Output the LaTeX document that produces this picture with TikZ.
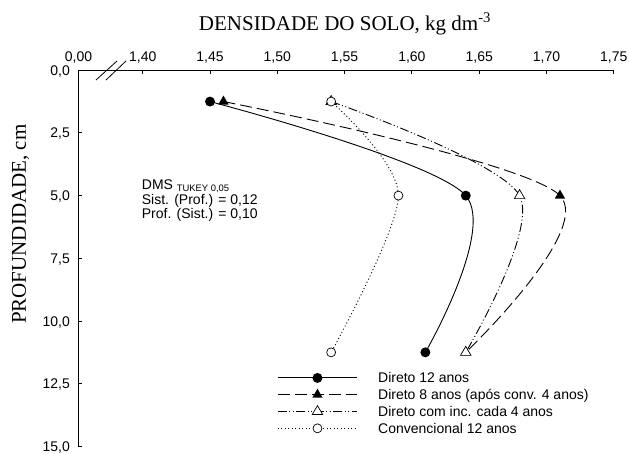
\documentclass[tikz,border=0pt]{standalone}
\usepackage{fontspec}
\setmainfont{Liberation Sans}
\newfontfamily\serifttl{Liberation Serif}
\usetikzlibrary{calc}
\usetikzlibrary{shapes.geometric}

\begin{document}
\begin{tikzpicture}[
			x=1346pt, y=-25.08pt,
			axis/.style={black,line width=0.9pt},
			lbl/.style={font=\fontsize{14}{16}\selectfont,inner sep=0pt},
			ttl/.style={font=\serifttl\fontsize{21}{24}\selectfont,inner sep=0pt},
			fcirc/.style={circle,fill=black,inner sep=0pt,minimum size=10pt},
			ocirc/.style={circle,draw=black,fill=white,line width=0.7pt,inner sep=0pt,minimum size=9pt},
			ftri/.style={regular polygon,regular polygon sides=3,fill=black,inner sep=0pt,minimum size=12pt},
			otri/.style={regular polygon,regular polygon sides=3,draw=black,fill=white,line width=0.7pt,inner sep=0pt,minimum size=12pt},
			c12/.style={black,line width=0.9pt},
			c8/.style={black,line width=0.9pt,dash pattern=on 12pt off 5pt},
			cinc/.style={black,line width=0.9pt,dash pattern=on 9pt off 2.5pt on 1pt off 2.5pt on 1pt off 2.5pt},
			cconv/.style={black,line width=0.9pt,dash pattern=on 1pt off 2.5pt}
		]
		\useasboundingbox (-142.7pt,70.2pt) rectangle (486.3pt,-382.8pt);

		% Titles
		\node[ttl,anchor=base] (title) at (202.3pt,40.2pt) {DENSIDADE DO SOLO, kg dm\textsuperscript{-3}};
		\node[ttl,anchor=base,rotate=90] (ytitle) at (-116.7pt,-154pt) {PROFUNDIDADE, cm};

		% Axes (x = density - 1,40 ; y = depth)
		\coordinate (O) at (-0.0477,0);
		\coordinate (B) at (-0.0477,15);
		\draw[axis] (0.35,0) -- (O) -- (B);
		\draw[axis,line width=0.8pt] (-46.7pt,-9.8pt) -- (-25.7pt,9.2pt);
		\draw[axis,line width=0.8pt] (-36.7pt,-9.8pt) -- (-16.7pt,9.2pt);
		\node[lbl,anchor=base] (x0) at ($(O)+(0,8.5pt)$) {0,00};
		\foreach \x/\t [count=\i] in {0/{1,40},0.05/{1,45},0.1/{1,50},0.15/{1,55},0.2/{1,60},0.25/{1,65},0.3/{1,70},0.35/{1,75}} {
			\draw[axis] (\x,0) -- ++(0,-4pt);
			\node[lbl,anchor=base] (x\i) at ($(\x,0)+(0,8.5pt)$) {\t};
		}
		\foreach \y/\t [count=\i] in {0/{0,0},2.5/{2,5},5/{5,0},7.5/{7,5},10/{10,0},12.5/{12,5},15/{15,0}} {
			\draw[axis] (-0.0477,\y) -- ++(4pt,0);
			\node[lbl,anchor=base east] (y\i) at ($(-0.0477,\y)+(-8.5pt,-5pt)$) {\t};
		}

		% DMS
		\node[lbl,anchor=base west] (dms) at (-1pt,-118.8pt) {DMS\ \raisebox{-2.5pt}{\fontsize{9.4}{10}\selectfont TUKEY 0,05}};
		\node[lbl,anchor=base west] (dms1) at (-1pt,-133.8pt) {Sist. (Prof.) = 0,12};
		\node[lbl,anchor=base west] (dms2) at (-1pt,-148.3pt) {Prof. (Sist.) = 0,10};

		% Data points
		\coordinate (a1) at (0.05,1.25);
		\coordinate (a2) at (0.24,5);
		\coordinate (a3) at (0.21,11.25);
		\coordinate (b1) at (0.06,1.25);
		\coordinate (b2) at (0.31,5);
		\coordinate (b3) at (0.24,11.25);
		\coordinate (c1) at (0.14,1.25);
		\coordinate (c2) at (0.28,5);
		\coordinate (c3) at (0.24,11.25);
		\coordinate (d1) at (0.14,1.25);
		\coordinate (d2) at (0.19,5);
		\coordinate (d3) at (0.14,11.25);

		\draw[c12] plot[smooth] coordinates {(a1) (a2) (a3)};
		\draw[c8] plot[smooth] coordinates {(b1) (b2) (b3)};
		\draw[cinc] plot[smooth] coordinates {(c1) (c2) (c3)};
		\draw[cconv] plot[smooth] coordinates {(d1) (d2) (d3)};

		\foreach \n in {1,2,3} \node[fcirc] (ma\n) at (a\n) {};
		\foreach \n in {1,2,3} \node[ftri] (mb\n) at (b\n) {};
		\foreach \n in {1,2,3} \node[otri] (mc\n) at (c\n) {};
		\foreach \n in {1,2,3} \node[ocirc] (md\n) at (d\n) {};

		% Legend
		\foreach \st/\mk/\txt [count=\i] in {c12/fcirc/{Direto 12 anos},c8/ftri/{Direto 8 anos (após conv. 4 anos)},cinc/otri/{Direto com inc. cada 4 anos},cconv/ocirc/{Convencional 12 anos}} {
			\coordinate (ls\i) at ($(0.1005,12.27)+(0,{-(\i-1)*16.8pt})$);
			\coordinate (le\i) at ($(ls\i)+(79pt,0)$);
			\draw[\st] (ls\i) -- (le\i);
			\node[\mk] (lm\i) at ($(ls\i)!0.5!(le\i)$) {};
			\node[lbl,anchor=base west] (lt\i) at ($(le\i)+(21pt,-5pt)$) {\txt};
		}
	\end{tikzpicture}
\end{document}
